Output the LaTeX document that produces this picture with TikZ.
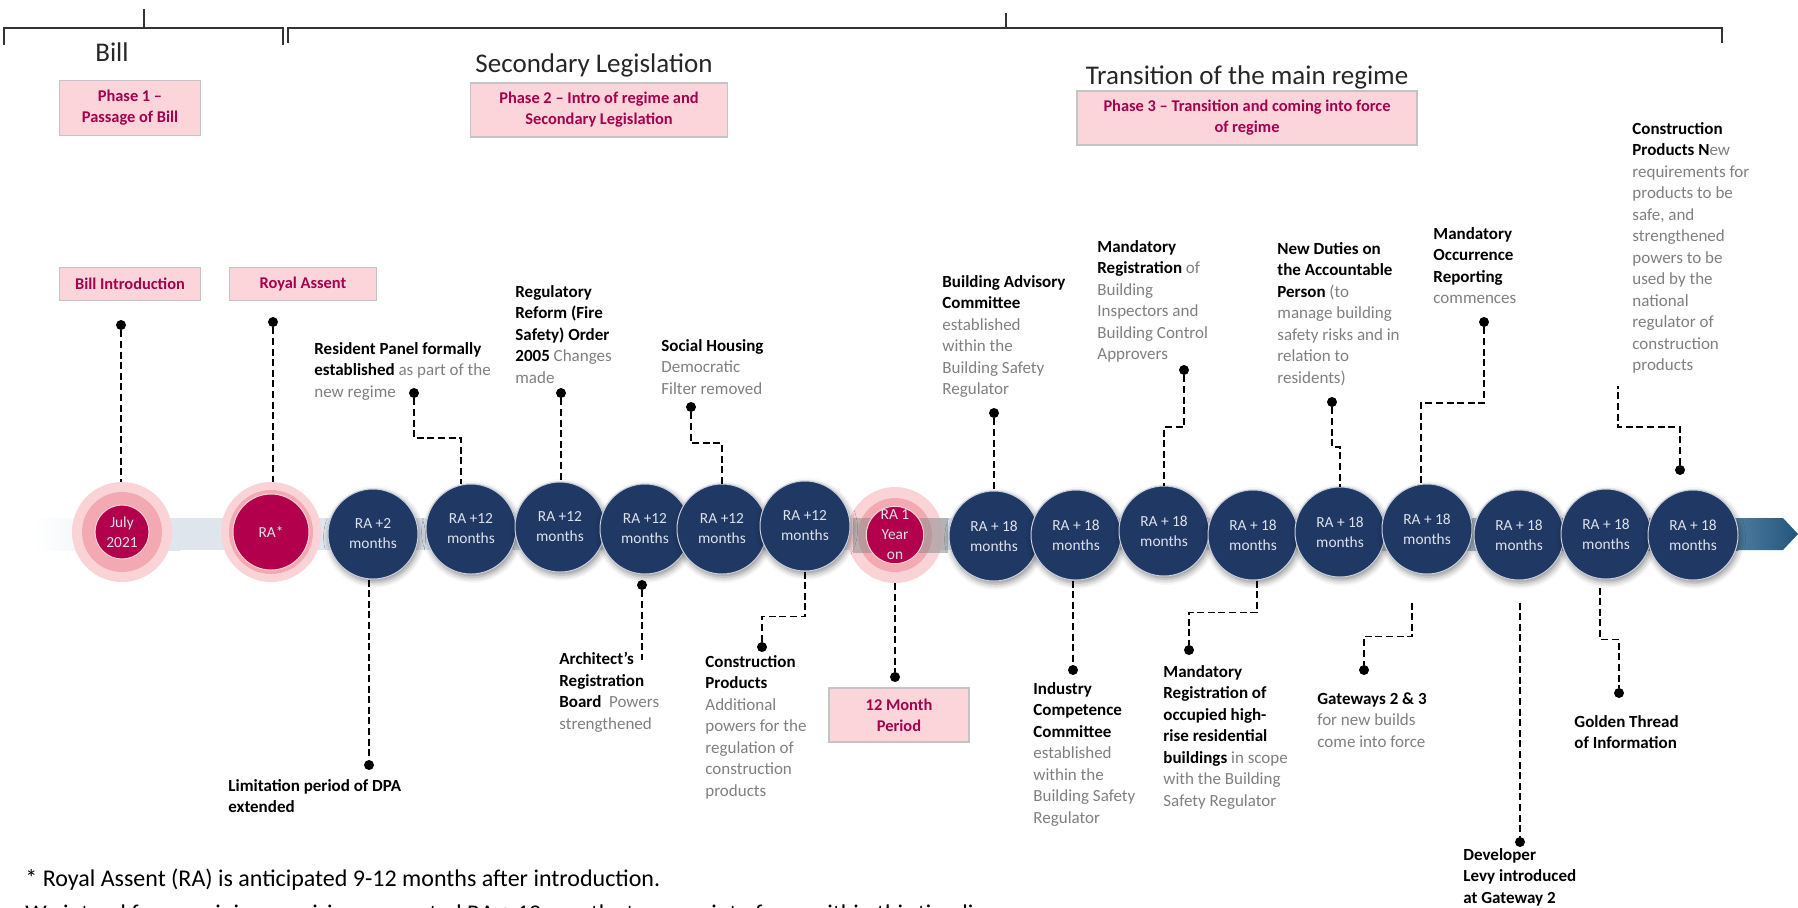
\documentclass[tikz,border=0pt]{standalone}
\usepackage{fontspec}
\setmainfont{Carlito}
\usetikzlibrary{calc,shadows.blur}
\newcommand{\notefont}{\fontsize{8.5}{10.75}\selectfont}
\newcommand{\stagefont}{\fontsize{7.7}{10}\selectfont}
\newcommand{\boxfont}{\fontsize{8.2}{10.5}\selectfont\bfseries}
\newcommand{\headfont}{\fontsize{13.5}{16}\selectfont}
\newcommand{\greytxt}[1]{{\color{notegrey}#1}}

\begin{document}
\begin{tikzpicture}[x=0.5pt,y=-0.5pt]
    % Color definitions
    \definecolor{navy}{HTML}{203864}
    \definecolor{navyrim}{HTML}{C9CFDC}
    \definecolor{crimson}{HTML}{B3004C}
    \definecolor{halolight}{HTML}{FAD3D7}
    \definecolor{halomid}{HTML}{F3A9B1}
    \definecolor{boxpink}{HTML}{FCD5DA}
    \definecolor{boxrim}{HTML}{C4C4C4}
    \definecolor{boxtext}{HTML}{A3004F}
    \definecolor{notegrey}{HTML}{7F7F7F}
    \definecolor{stagetext}{HTML}{DDE1EA}
    \definecolor{bandgrey}{HTML}{DEE5ED}
    \definecolor{bandteal}{HTML}{5E8CAB}
    \definecolor{arrowblue}{HTML}{24557D}

    % TikZ style definitions
    \tikzstyle{stage}   =[circle,fill=navy,draw=navyrim,line width=0.5pt,minimum size=45pt,
                          inner sep=0pt,text=stagetext,align=center,font=\stagefont,
                          blur shadow={shadow xshift=0.8pt,shadow yshift=-1.5pt,
                                       shadow blur radius=3pt,shadow opacity=45}]
    \tikzstyle{halo}    =[circle,fill=halolight,minimum size=50pt,inner sep=0pt]
    \tikzstyle{ring}    =[circle,fill=halomid,inner sep=0pt]
    \tikzstyle{core}    =[circle,fill=crimson,draw=halolight,line width=0.5pt,inner sep=0pt,
                          text=stagetext,align=center,font=\stagefont]
    \tikzstyle{phasebox}=[draw=boxrim,fill=boxpink,line width=0.6pt,text=boxtext,
                          font=\boxfont,align=center,inner sep=0pt]
    \tikzstyle{leader}  =[line width=0.8pt,dash pattern=on 3.5pt off 1.8pt]
    \tikzstyle{dot}     =[circle,fill=black,minimum size=5pt,inner sep=0pt]
    \tikzstyle{note}    =[anchor=north west,align=left,inner sep=0pt,font=\notefont]
    \tikzstyle{heading} =[anchor=base,font=\headfont,text=black!85]
    \tikzstyle{bracket} =[line width=1pt,black!80]

    \useasboundingbox (0,0) rectangle (1798,907);
    \clip (0,0) rectangle (1798,907);

    % Phase brackets
    \draw[bracket] (4,45) -- (4,28) -- (283,28) -- (283,45);
    \draw[bracket] (288,43) -- (288,28) -- (1722,28) -- (1722,43);
    \draw[bracket,line width=1.4pt] (144,28) -- (144,9);
    \draw[bracket,line width=1.4pt] (1006,28) -- (1006,13);

    % Headings and phase boxes
    \node[heading] (bill) at (112,61) {Bill};
    \node[heading] (secleg) at (594,72) {Secondary Legislation};
    \node[heading] (trans) at (1247,84) {Transition of the main regime};
    \node[phasebox,minimum width=70.5pt,minimum height=27.5pt] (p1) at (130,108) {Phase 1 --\\Passage of Bill};
    \node[phasebox,minimum width=128.5pt,minimum height=27pt] (p2) at (599,110) {Phase 2 -- Intro of regime and\\Secondary Legislation};
    \node[phasebox,minimum width=170pt,minimum height=27pt] (p3) at (1247,118) {Phase 3 -- Transition and coming into force\\of regime};
    \node[phasebox,minimum width=70.5pt,minimum height=16.5pt] (bi) at (130,284) {Bill Introduction};
    \node[phasebox,minimum width=73.5pt,minimum height=16.5pt] (ra) at (303,284) {Royal Assent};
    \node[phasebox,minimum width=70pt,minimum height=27pt] (mp) at (899,715) {12 Month\\Period};

    % Timeline band and arrow
    \shade[left color=white,right color=bandgrey] (34,518) rectangle (180,550);
    \fill[bandgrey] (180,518) rectangle (1300,550);
    \shade[left color=bandgrey,right color=bandteal] (1300,518) rectangle (1738,550);
    \shade[left color=bandteal!70!arrowblue,right color=arrowblue]
      (1737,518) -- (1783,518) -- (1798,534) -- (1783,550) -- (1737,550) -- cycle;

    % Milestones in pink
    \node[halo] (h1) at (122,532) {};
    \node[ring,minimum size=40pt] at (h1) {};
    \node[core,minimum size=27pt] (c1) at (h1) {July\\2021};
    \node[halo] (h2) at (271,532) {};
    \node[ring,minimum size=42pt] at (h2) {};
    \node[core,minimum size=38pt] (c2) at (h2) {RA*};
    \node[halo,minimum size=48pt] (h9) at (895,535) {};
    \node[ring,minimum size=37pt] at (h9) {};
    \fill[black!45,opacity=0.55] (853,518) rectangle (948,553);
    \node[core,minimum size=28pt] (c9) at (h9) {RA 1\\Year\\on};

    % Milestones in navy
    \foreach \n/\x/\y/\t in {3/373/534/{RA +2},4/471/529/{RA +12},5/560/527/{RA +12},
                             6/645/529/{RA +12},7/722/529/{RA +12},8/805/526/{RA +12},
                             10/994/536/{RA + 18},11/1076/535/{RA + 18},12/1164/531/{RA + 18},
                             13/1253/535/{RA + 18},14/1340/532/{RA + 18},15/1427/529/{RA + 18},
                             16/1519/535/{RA + 18},17/1606/534/{RA + 18},18/1693/535/{RA + 18}}
      \node[stage] (c\n) at (\x,\y) {\t\\months};

    % Dots
    \node[dot] (d1) at (121,325) {};
    \node[dot] (d2) at (273,322) {};
    \node[dot] (d3) at (414,393) {};
    \node[dot] (d4) at (561,393) {};
    \node[dot] (d5) at (691,407) {};
    \node[dot] (d6) at (994,413) {};
    \node[dot] (d7) at (1184,370) {};
    \node[dot] (d8) at (1332,402) {};
    \node[dot] (d9) at (1484,322) {};
    \node[dot] (d10) at (1680,470) {};
    \node[dot] (d11) at (369,765) {};
    \node[dot] (d12) at (642,585) {};
    \node[dot] (d13) at (762,647) {};
    \node[dot] (d14) at (895,677) {};
    \node[dot] (d15) at (1073,670) {};
    \node[dot] (d16) at (1189,650) {};
    \node[dot] (d17) at (1364,670) {};
    \node[dot] (d18) at (1520,842) {};
    \node[dot] (d19) at (1619,693) {};
    \coordinate (e10) at (1618,386);
    \coordinate (e12) at (642,660);

    % Leaders above the timeline
    \draw[leader] (d1) -- (d1 |- h1.north);
    \draw[leader] (d2) -- (d2 |- h2.north);
    \draw[leader] (d3) -- ++(0,45) -| ($(c4.north)+(-10,0)$);
    \draw[leader] (d4) -- (d4 |- c5.north);
    \draw[leader] (d5) -- ++(0,36) -| (c7.north);
    \draw[leader] (d6) -- (d6 |- c10.north);
    \draw[leader] (d7) -- ++(0,57) -| (c12.north);
    \draw[leader] (d8) -- ++(0,45) -| (c14.north);
    \draw[leader] (d9) -- ++(0,81) -| ($(c15.north)+(-6,0)$);
    \draw[leader] (d10) -- ++(0,-43) -| (e10);

    % Leaders below the timeline
    \draw[leader] (c3.south -| d11) -- (d11);
    \draw[leader] (d12) -- (e12);
    \draw[leader] (c8.south) -- ++(0,45) -| (d13);
    \draw[leader] (h9.south -| d14) -- (d14);
    \draw[leader] (c11.south -| d15) -- (d15);
    \draw[leader] ($(c13.south)+(4,0)$) -- ++(0,32) -| (d16);
    \draw[leader] ($(c15.south)+(-15,28)$) -- ++(0,34) -| (d17);
    \draw[leader] ($(c16.south)+(1,22)$) -- (d18);
    \draw[leader] ($(c17.south)+(-6,8)$) -- ++(0,52) -| (d19);

    % Notes above
    \node[note] (n3) at (314,342) {\textbf{Resident Panel formally}\\\textbf{established} \greytxt{as part of the}\\\greytxt{new regime}};
    \node[note] (n4) at (515,285) {\textbf{Regulatory}\\\textbf{Reform (Fire}\\\textbf{Safety) Order}\\\textbf{2005} \greytxt{Changes}\\\greytxt{made}};
    \node[note] (n5) at (661,339) {\textbf{Social Housing}\\\greytxt{Democratic}\\\greytxt{Filter removed}};
    \node[note] (n6) at (942,275) {\textbf{Building Advisory}\\\textbf{Committee}\\\greytxt{established}\\\greytxt{within the}\\\greytxt{Building Safety}\\\greytxt{Regulator}};
    \node[note] (n7) at (1097,240) {\textbf{Mandatory}\\\textbf{Registration} \greytxt{of}\\\greytxt{Building}\\\greytxt{Inspectors and}\\\greytxt{Building Control}\\\greytxt{Approvers}};
    \node[note] (n8) at (1277,242) {\textbf{New Duties on}\\\textbf{the Accountable}\\\textbf{Person} \greytxt{(to}\\\greytxt{manage building}\\\greytxt{safety risks and in}\\\greytxt{relation to}\\\greytxt{residents)}};
    \node[note] (n9) at (1433,227) {\textbf{Mandatory}\\\textbf{Occurrence}\\\textbf{Reporting}\\\greytxt{commences}};
    \node[note] (n10) at (1632,122) {\textbf{Construction}\\\textbf{Products N}\greytxt{ew}\\\greytxt{requirements for}\\\greytxt{products to be}\\\greytxt{safe, and}\\\greytxt{strengthened}\\\greytxt{powers to be}\\\greytxt{used by the}\\\greytxt{national}\\\greytxt{regulator of}\\\greytxt{construction}\\\greytxt{products}};

    % Notes below
    \node[note] (n11) at (228,779) {\textbf{Limitation period of DPA}\\\textbf{extended}};
    \node[note] (n12) at (559,652) {\textbf{Architect’s}\\\textbf{Registration}\\\textbf{Board}\ \ \greytxt{Powers}\\\greytxt{strengthened}};
    \node[note] (n13) at (705,655) {\textbf{Construction}\\\textbf{Products}\\\greytxt{Additional}\\\greytxt{powers for the}\\\greytxt{regulation of}\\\greytxt{construction}\\\greytxt{products}};
    \node[note] (n15) at (1033,682) {\textbf{Industry}\\\textbf{Competence}\\\textbf{Committee}\\\greytxt{established}\\\greytxt{within the}\\\greytxt{Building Safety}\\\greytxt{Regulator}};
    \node[note] (n16) at (1163,665) {\textbf{Mandatory}\\\textbf{Registration of}\\\textbf{occupied high-}\\\textbf{rise residential}\\\textbf{buildings} \greytxt{in scope}\\\greytxt{with the Building}\\\greytxt{Safety Regulator}};
    \node[note] (n17) at (1317,692) {\textbf{Gateways 2 \& 3}\\\greytxt{for new builds}\\\greytxt{come into force}};
    \node[note] (n18) at (1463,848) {\textbf{Developer}\\\textbf{Levy introduced}\\\textbf{at Gateway 2}};
    \node[note] (n19) at (1574,715) {\textbf{Golden Thread}\\\textbf{of Information}};

    % Footnote
    \node[anchor=base west,inner sep=0pt,font=\fontsize{12}{14}\selectfont] (fn1) at (25,886) {* Royal Assent (RA) is anticipated 9-12 months after introduction.};
    \node[anchor=base west,inner sep=0pt,font=\fontsize{12}{14}\selectfont] (fn2) at (25,921) {We intend for remaining provisions expected RA + 12 months to come into force within this timeline};
\end{tikzpicture}
\end{document}
